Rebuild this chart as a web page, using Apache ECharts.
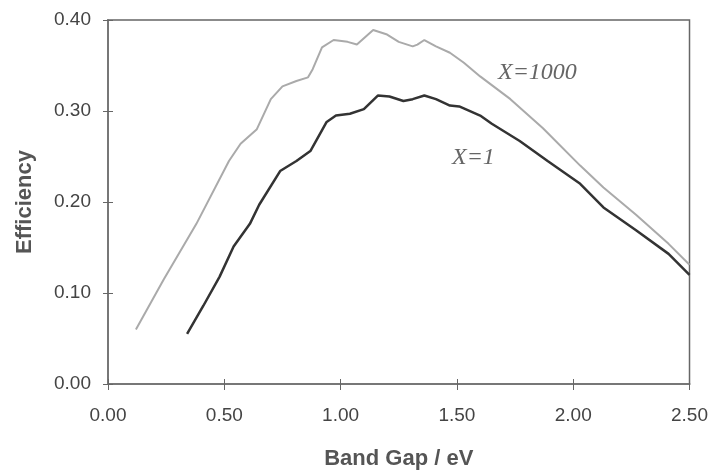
<!DOCTYPE html>
<html>
<head>
<meta charset="utf-8">
<script src="https://cdn.jsdelivr.net/npm/echarts@6/dist/echarts.min.js"></script>
<style>html,body{margin:0;padding:0;background:#fff}#c{width:711px;height:475px}</style>
</head>
<body>
<div id="c"></div>
<script>
// Band gap (eV) and efficiency for X=1000
var xX1000 = [0.12,0.24,0.38,0.52,0.57,0.64,0.70,0.75,0.81,0.86,0.88,0.92,0.97,1.03,1.07,1.14,1.20,1.25,1.31,1.33,1.36,1.41,1.47,1.53,1.60,1.73,1.87,2.03,2.13,2.27,2.41,2.50];
var yX1000 = [0.060,0.115,0.176,0.245,0.264,0.280,0.313,0.327,0.333,0.337,0.346,0.370,0.378,0.376,0.373,0.389,0.384,0.376,0.371,0.373,0.378,0.371,0.364,0.353,0.338,0.313,0.281,0.240,0.216,0.186,0.154,0.131];
// Band gap (eV) and efficiency for X=1
var xX1 = [0.34,0.41,0.48,0.54,0.61,0.65,0.74,0.81,0.87,0.94,0.98,1.04,1.10,1.16,1.21,1.27,1.31,1.36,1.41,1.47,1.51,1.60,1.65,1.77,1.89,2.03,2.13,2.27,2.41,2.50];
var yX1 = [0.055,0.086,0.118,0.151,0.176,0.197,0.234,0.245,0.256,0.288,0.295,0.297,0.302,0.317,0.316,0.311,0.313,0.317,0.313,0.306,0.305,0.295,0.286,0.267,0.245,0.220,0.194,0.169,0.143,0.120];
var seriesNames = ['X=1000','X=1'];
var xTitle = 'Band Gap / eV';
var yTitle = 'Efficiency';

function pairs(xs, ys){ return xs.map(function(x,i){ return [x, ys[i]]; }); }

var chart = echarts.init(document.getElementById('c'), null, {renderer:'canvas'});
var lblFont = {fontFamily:'Liberation Sans, Arial, sans-serif', fontSize:19, color:'#444'};
chart.setOption({
  backgroundColor:'#fff',
  animation:false,
  grid:{left:108, right:21, top:20, bottom:86, show:true, borderColor:'#666', borderWidth:1.5, backgroundColor:'transparent'},
  xAxis:[{
    type:'value', min:0, max:2.5, interval:0.5, position:'bottom',
    name:xTitle, nameLocation:'middle', nameGap:64,
    nameTextStyle:{fontFamily:'Liberation Sans, Arial, sans-serif', fontSize:22, fontWeight:'bold', color:'#555'},
    axisLine:{show:true, lineStyle:{color:'#777', width:2}},
    axisTick:{show:true, length:6, lineStyle:{color:'#666', width:1}},
    axisLabel:Object.assign({margin:22, formatter:function(v){return v.toFixed(2);}}, lblFont),
    splitLine:{show:false}
  },{
    type:'value', min:0, max:2.5, interval:0.5, position:'bottom', offset:0,
    axisLine:{show:false}, axisLabel:{show:false}, splitLine:{show:false},
    axisTick:{show:true, inside:true, length:5, lineStyle:{color:'#666', width:1}}
  }],
  yAxis:[{
    type:'value', min:0, max:0.4, interval:0.1, position:'left',
    name:yTitle, nameLocation:'middle', nameGap:72, nameRotate:90,
    nameTextStyle:{fontFamily:'Liberation Sans, Arial, sans-serif', fontSize:22, fontWeight:'bold', color:'#555'},
    axisLine:{show:true, lineStyle:{color:'#777', width:2}},
    axisTick:{show:true, length:5, lineStyle:{color:'#666', width:1}},
    axisLabel:Object.assign({margin:17, formatter:function(v){return v.toFixed(2);}}, lblFont),
    splitLine:{show:false}
  },{
    type:'value', min:0, max:0.4, interval:0.1, position:'left', offset:0,
    axisLine:{show:false}, axisLabel:{show:false}, splitLine:{show:false},
    axisTick:{show:true, inside:true, length:5, lineStyle:{color:'#666', width:1}}
  }],
  series:[{
    name:seriesNames[0], type:'line', xAxisIndex:0, yAxisIndex:0,
    data:pairs(xX1000, yX1000), showSymbol:false, symbol:'none',
    lineStyle:{color:'#aaa', width:2}
  },{
    name:seriesNames[1], type:'line', xAxisIndex:0, yAxisIndex:0,
    data:pairs(xX1, yX1), showSymbol:false, symbol:'none',
    lineStyle:{color:'#333', width:2.5}
  }],
  graphic:[
    {type:'text', left:498, top:61, style:{text:seriesNames[0], font:'italic 24px "Liberation Serif", serif', fill:'#666'}},
    {type:'text', left:452, top:146, style:{text:seriesNames[1], font:'italic 24px "Liberation Serif", serif', fill:'#666'}}
  ]
});
</script>
</body>
</html>
